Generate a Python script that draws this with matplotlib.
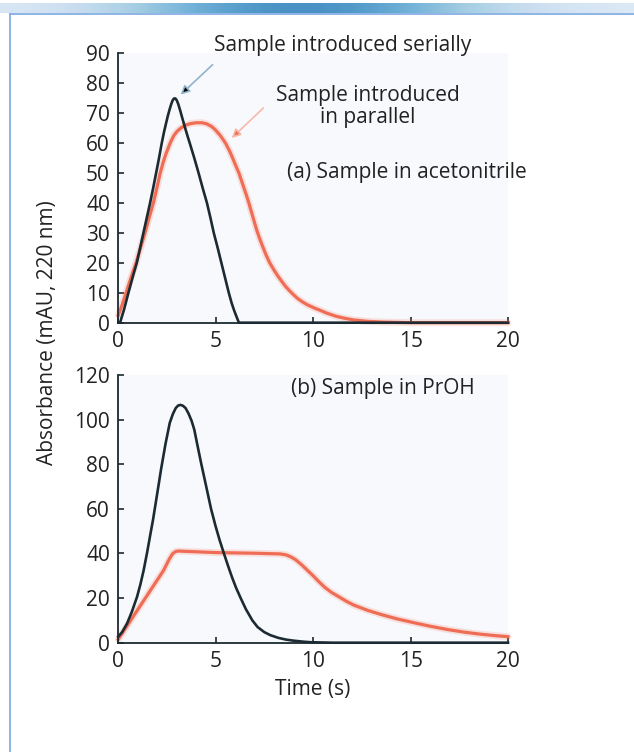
import numpy as np
import matplotlib
matplotlib.use("Agg")
import matplotlib.pyplot as plt
from matplotlib.lines import Line2D

plt.rcParams['font.family'] = ['Open Sans', 'DejaVu Sans']

# (a) sample in acetonitrile
t_a_serial = [0, 0.09, 0.3, 0.52, 0.75, 0.95, 1.12, 1.29, 1.46, 1.63, 1.79, 1.94,
              2.09, 2.23, 2.35, 2.45, 2.55, 2.64, 2.72, 2.79, 2.86, 2.93, 3.0,
              3.08, 3.18, 3.3, 3.45, 3.57, 3.69, 3.9, 4.12, 4.33, 4.55, 4.73,
              4.9, 5.1, 5.29, 5.48, 5.67, 5.82, 5.95, 6.08, 6.19, 20]
y_a_serial = [0, 0, 4.5, 10, 15.5, 20, 25, 30, 35, 40, 45, 50,
              55, 60, 63.8, 66.6, 69.3, 71.4, 73.1, 74.3, 74.9, 74.9, 74.3,
              73.0, 70.8, 68.0, 64.6, 62, 59.5, 55, 50, 45, 40, 35,
              30, 25, 20, 15, 10, 6.5, 4, 1.8, 0, 0]
t_a_par = [0, 0.2, 0.4, 0.65, 0.91, 1.14, 1.37, 1.58, 1.8, 1.98, 2.15, 2.3, 2.45,
           2.66, 2.85, 3.0, 3.2, 3.45, 3.7, 4.0, 4.3, 4.55, 4.8, 5.0, 5.25, 5.5,
           5.7, 5.85, 6.02, 6.19, 6.32, 6.45, 6.58, 6.7, 6.9, 7.1, 7.25, 7.4,
           7.58, 7.77, 8.0, 8.2, 8.4, 8.6, 8.8, 9.0, 9.2, 9.44, 9.7, 9.9, 10.1,
           10.3, 10.7, 11.15, 11.6, 12.1, 12.8, 13.6, 15, 20]
y_a_par = [2.5, 6, 10, 15, 20, 25, 30, 35, 40, 45, 50, 53.5, 56.5,
           60, 62.5, 63.8, 65, 66, 66.5, 66.8, 66.8, 66.4, 65.5, 64.3, 62.4, 60,
           57.5, 55.3, 52.6, 50, 47.5, 45, 42.5, 40, 35.5, 31, 28.2, 25.6,
           22.7, 20, 17.5, 15.5, 13.7, 12, 10.6, 9.3, 8.1, 7, 6, 5.4, 4.8,
           4.3, 3.2, 2.2, 1.5, 0.9, 0.45, 0.2, 0, 0]

# (b) sample in PrOH
t_b_serial = [0, 0.2, 0.45, 0.7, 0.96, 1.13, 1.3, 1.48, 1.65, 1.78, 2.0, 2.2,
              2.42, 2.64, 2.8, 2.95, 3.07, 3.19, 3.32, 3.45, 3.6, 3.76, 3.9,
              4.05, 4.25, 4.5, 4.76, 5.0, 5.2, 5.42, 5.65, 5.85, 6.05, 6.28,
              6.55, 6.88, 7.15, 7.5, 7.8, 8.2, 8.6, 9.0, 9.5, 9.9, 11, 20]
y_b_serial = [2.7, 4.8, 8.6, 14, 20.5, 26, 32.4, 40.5, 48.8, 55, 67, 78,
              89, 98.5, 102.5, 105.2, 106.3, 106.6, 106.2, 105.2, 102.8, 99.5, 95.5,
              89, 80.5, 70.5, 60, 52, 46, 40, 34, 29, 24.5, 20,
              15, 10, 7, 4.7, 3.4, 2.2, 1.4, 0.9, 0.45, 0.2, 0, 0]
t_b_par = [0, 0.8, 1.6, 2.33, 2.5, 2.65, 2.8, 2.95, 3.1, 3.3, 5.0, 7.0, 8.3,
           8.6, 8.85, 9.1, 9.4, 9.7, 10.0, 10.3, 10.6, 10.95, 11.3, 11.7, 12.1,
           12.8, 13.5, 14.3, 15.2, 16.0, 16.9, 17.7, 18.5, 19.3, 20]
y_b_par = [1.5, 12.2, 22.8, 32.5, 35.5, 38, 40, 40.9, 41.1, 41, 40.4, 40.1, 39.8,
           39.4, 38.5, 37.2, 35, 32.5, 30, 27.3, 24.8, 22.5, 20.7, 18.6, 16.8,
           14.5, 12.6, 10.7, 8.9, 7.4, 5.9, 4.8, 3.9, 3.2, 2.7]

x_ticks = [0, 5, 10, 15, 20]
y_ticks_a = [0, 10, 20, 30, 40, 50, 60, 70, 80, 90]
y_ticks_b = [0, 20, 40, 60, 80, 100, 120]

dark = '#1c2a31'
red = '#f06d55'
axbg = '#f8f9fc'
txt = '#222222'
fs = 15

fig = plt.figure(figsize=(6.34, 7.52), dpi=100)
fig.patch.set_facecolor('white')

# frame decoration: gradient band on top, thin blue frame lines
band = fig.add_axes([0.0, 1 - 13 / 752, 1.0, 10 / 752])
xs = np.linspace(-1, 1, 400)
grad = np.exp(-(xs + 0.05) ** 2 / 0.35)
band.imshow(grad[np.newaxis, :], aspect='auto', cmap='Blues', vmin=-0.25, vmax=1.6,
            alpha=0.9, extent=[0, 1, 0, 1])
band.axis('off')
fig.add_artist(Line2D([9.5 / 634, 1.0], [1 - 14 / 752, 1 - 14 / 752],
                      transform=fig.transFigure, color='#7aa8e2', lw=1.2))
fig.add_artist(Line2D([9.5 / 634, 9.5 / 634], [0, 1 - 14 / 752],
                      transform=fig.transFigure, color='#7aa8e2', lw=1.2))

ax1 = fig.add_axes([118.3 / 634, 1 - 322.7 / 752, (508 - 118.3) / 634, (322.7 - 53.3) / 752])
ax2 = fig.add_axes([118.3 / 634, 1 - 642.7 / 752, (508 - 118.3) / 634, (642.7 - 375) / 752])

for ax, yt in ((ax1, y_ticks_a), (ax2, y_ticks_b)):
    ax.set_facecolor(axbg)
    for s in ('top', 'right'):
        ax.spines[s].set_visible(False)
    for s in ('left', 'bottom'):
        ax.spines[s].set_color(dark)
        ax.spines[s].set_linewidth(1.3)
    ax.set_xlim(0, 20)
    ax.set_ylim(0, yt[-1])
    ax.set_xticks(x_ticks)
    ax.set_yticks(yt)
    ax.tick_params(direction='in', length=4, width=1.2, color=dark,
                   labelsize=fs, pad=6, labelcolor=txt)

# glow under the red curves, then the curves
for ax, tp, yp, ts, ys in ((ax1, t_a_par, y_a_par, t_a_serial, y_a_serial),
                           (ax2, t_b_par, y_b_par, t_b_serial, y_b_serial)):
    ax.plot(tp, yp, color=red, lw=5, alpha=0.18, solid_capstyle='round', clip_on=False)
    ax.plot(tp, yp, color=red, lw=2.3, solid_joinstyle='round', clip_on=False)
    ax.plot(ts, ys, color=dark, lw=1.9, solid_joinstyle='round', clip_on=False)

ax1.text(11.5, 92.5, 'Sample introduced serially', ha='center', va='center',
         fontsize=fs, color=txt, clip_on=False)
ax1.text(12.8, 72.2, 'Sample introduced\nin parallel', ha='center', va='center',
         fontsize=fs, color=txt, linespacing=1.1)
ax1.text(8.65, 50.1, '(a) Sample in acetonitrile', ha='left', va='center',
         fontsize=fs, color=txt)
ax2.text(8.84, 113.8, '(b) Sample in PrOH', ha='left', va='center',
         fontsize=fs, color=txt)

ax1.annotate('', xy=(3.2, 76.2), xytext=(4.84, 86.2),
             arrowprops=dict(arrowstyle='-|>', lw=1.2,
                             mutation_scale=13, shrinkA=0, shrinkB=0,
                             fc='black', ec='#8fb3cc'))
ax1.annotate('', xy=(5.82, 61.7), xytext=(7.44, 71.7),
             arrowprops=dict(arrowstyle='-|>', lw=1.2,
                             mutation_scale=13, shrinkA=0, shrinkB=0,
                             fc=red, ec='#f7b8aa'))

ax2.set_xlabel('Time (s)', fontsize=fs, color=txt, labelpad=5)
fig.text(48 / 634, 1 - 333 / 752, 'Absorbance (mAU, 220 nm)', rotation=90,
         ha='center', va='center', fontsize=fs, color=txt)

fig.savefig('out.png', dpi=100, facecolor='white')
